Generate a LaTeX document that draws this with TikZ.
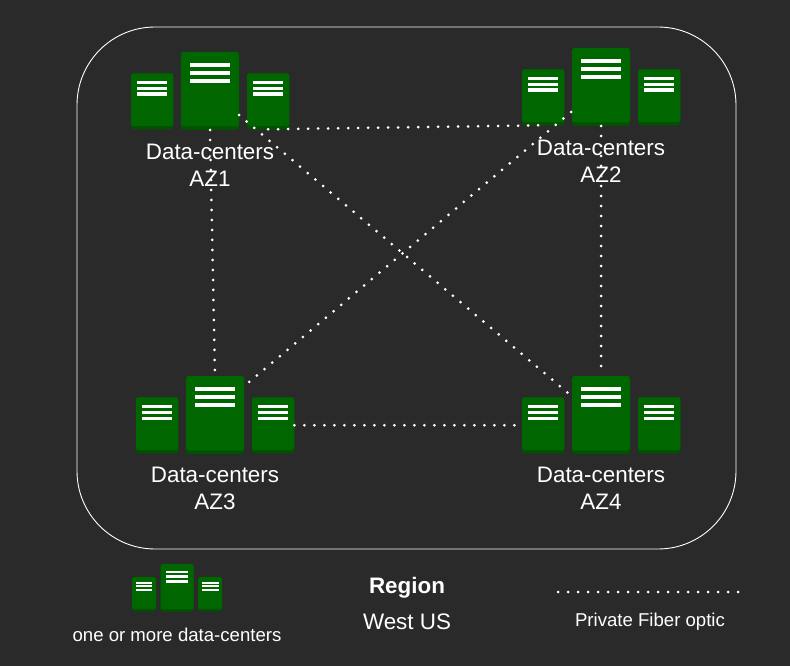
\documentclass[tikz,border=0pt]{standalone}
\usepackage{fontspec}
\setmainfont{Liberation Sans}
\definecolor{bgdark}{HTML}{2A2A2A}
\definecolor{srvgreen}{HTML}{006600}
\definecolor{srvshade}{HTML}{005200}
\tikzset{
  x=1pt,y=-1pt,
  srvbox/.style={fill=srvshade,rounded corners=2.5pt,inner sep=0pt,anchor=north west,transform shape,outer sep=0pt},
  srvtop/.style={fill=srvgreen,rounded corners=2.5pt},
  srvbar/.style={fill=white},
  fiber/.style={draw=white,line width=3pt,line cap=round,dash pattern=on 0pt off 10pt},
  biglabel/.style={text=white,align=center,font=\fontsize{22.4}{27}\selectfont,inner sep=0pt},
  smalllabel/.style={text=white,font=\fontsize{18.6}{22}\selectfont,inner sep=0pt},
}
\newcommand{\srvgroup}[5]{%
\begin{scope}[shift={(#2,#3)},xscale=#4,yscale=#5]
  \node[srvbox,minimum width=42.3pt,minimum height=56pt] (#1l) at (0,21.3) {};
  \node[srvbox,minimum width=58pt,minimum height=78pt] (#1c) at (50,0) {};
  \node[srvbox,minimum width=42.3pt,minimum height=56pt] (#1r) at (116,21.3) {};
  \fill[srvtop] (0,21.3) rectangle (42.3,74);
  \fill[srvtop] (50,0) rectangle (108,74.5);
  \fill[srvtop] (116,21.3) rectangle (158.3,74);
  \foreach \ya/\yb in {10.7/15.3,18.7/23.3,26.7/31}{\fill[srvbar] (59,\ya) rectangle (99,\yb);}
  \foreach \ya/\yb in {29/32.3,34.7/38.3,40.5/44}{
    \fill[srvbar] (6.3,\ya) rectangle (35.7,\yb);
    \fill[srvbar] (122.3,\ya) rectangle (152,\yb);}
\end{scope}}
\begin{document}
\begin{tikzpicture}
\path[fill=bgdark,use as bounding box] (0,0) rectangle (790,666);
\node[draw=white,line width=0.9pt,rounded corners=78pt,minimum width=659pt,minimum height=522pt,inner sep=0pt] (region) at (406.5,288) {};
\srvgroup{aza}{131}{52}{1}{1}
\srvgroup{azb}{522}{48}{1}{1}
\srvgroup{azc}{136}{376}{1}{1}
\srvgroup{azd}{522}{376}{1}{1}
\srvgroup{leg}{132}{564}{0.57}{0.61}
\coordinate (diagA) at (239,115);
\coordinate (diagD) at (568,393);
\coordinate (diagB) at (571,112);
\coordinate (diagC) at (248,383);
\draw[fiber] (azac.south) -- (azcc.north);
\draw[fiber] (azbc.south) -- (azdc.north);
\draw[fiber] (azcr.east) -- (azdl.west);
\draw[fiber] (azar.south) -- (azbl.south);
\draw[fiber] (diagA) -- (diagD);
\draw[fiber] (diagB) -- (diagC);
\node[biglabel] (lab1) at (210,165.5) {Data-centers\\AZ1};
\node[biglabel] (lab2) at (601,161.5) {Data-centers\\AZ2};
\node[biglabel] (lab3) at (215,488.5) {Data-centers\\AZ3};
\node[biglabel] (lab4) at (601,488.5) {Data-centers\\AZ4};
\node[biglabel,font=\fontsize{22.4}{27}\selectfont\bfseries] (regt) at (407,587.5) {Region};
\node[biglabel] (regn) at (407,621.5) {West US};
\node[smalllabel] (legt) at (177,635) {one or more data-centers};
\node[smalllabel] (fibt) at (650,621.5) {Private Fiber optic};
\coordinate (fibA) at (558,592);
\coordinate (fibB) at (740,592);
\draw[fiber] (fibA) -- (fibB);
\end{tikzpicture}
\end{document}
